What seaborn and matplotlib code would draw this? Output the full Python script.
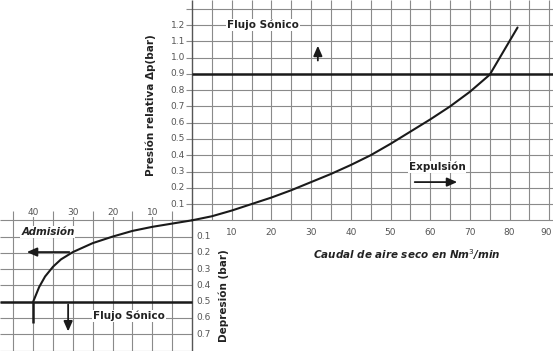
import numpy as np
import pandas as pd
import matplotlib
matplotlib.use("Agg")
import matplotlib.pyplot as plt
import seaborn as sns

# Flow rate (Nm3/min) vs. relative pressure on the discharge side
caudal_expulsion = [0, 5, 10, 15, 20, 25, 30, 35, 40, 45, 50, 55, 60, 65, 70, 75, 78.5, 82]
presion_relativa = [0, 0.025, 0.06, 0.10, 0.14, 0.185, 0.235, 0.285, 0.34, 0.40, 0.47,
                    0.545, 0.62, 0.70, 0.79, 0.895, 1.04, 1.185]

# Flow rate (Nm3/min) vs. depression on the intake side (drawn to the left / downward)
caudal_admision = [0, 5, 10, 15, 20, 25, 30, 33, 35, 37, 38.5, 40]
depresion = [0, 0.02, 0.04, 0.065, 0.10, 0.14, 0.195, 0.24, 0.285, 0.345, 0.41, 0.50]

# Tick labels
ticks_caudal_exp = [10, 20, 30, 40, 50, 60, 70, 80, 90]
ticks_caudal_adm = [40, 30, 20, 10]
ticks_presion = [0.1, 0.2, 0.3, 0.4, 0.5, 0.6, 0.7, 0.8, 0.9, 1.0, 1.1, 1.2]
ticks_depresion = [0.1, 0.2, 0.3, 0.4, 0.5, 0.6, 0.7]

# Sonic flow limits
limite_sonico_exp = 0.9
limite_sonico_adm = 0.5

sns.set_theme(style="white")
plt.rcParams["font.family"] = ["DejaVu Sans"]

XLIM = (-48.36, 90.93)
YLIM = (-0.803, 1.354)

fig = plt.figure(figsize=(5.53, 3.51), dpi=100)
ax = fig.add_axes([0, 0, 1, 1])

grid_c = "#8a8a8a"
grid_w = 0.8
txt_c = "#222222"
tick_c = "#555555"
ink = "#1a1a1a"

# Upper-right grid (discharge)
for y in np.arange(0, 1.31, 0.1):
    ax.hlines(y, -1.5, 91, color=grid_c, lw=grid_w, zorder=1)
for x in range(5, 95, 5):
    ax.vlines(x, 0, YLIM[1], color=grid_c, lw=grid_w, zorder=1)

# Lower-left grid (intake)
for y in np.arange(0, 0.81, 0.1):
    ax.hlines(-y, -48.4, 0, color=grid_c, lw=grid_w, zorder=1)
for x in range(5, 50, 5):
    ax.vlines(-x, YLIM[0], 0.06, color=grid_c, lw=grid_w, zorder=1)

# Central axis
ax.vlines(0, YLIM[0], YLIM[1], color="#555555", lw=1.0, zorder=2)

# Curves
df_exp = pd.DataFrame({"caudal": caudal_expulsion, "presion": presion_relativa})
df_adm = pd.DataFrame({"caudal": [-c for c in caudal_admision],
                       "presion": [-d for d in depresion]})
sns.lineplot(data=df_exp, x="caudal", y="presion", ax=ax, color=ink,
             lw=1.5, sort=False, zorder=4)
sns.lineplot(data=df_adm, x="caudal", y="presion", ax=ax, color=ink,
             lw=1.5, sort=False, zorder=4)
ax.set_xlim(*XLIM)
ax.set_ylim(*YLIM)
ax.axis("off")

# Sonic flow lines
ax.hlines(limite_sonico_exp, 0, 91, color=ink, lw=1.8, zorder=3)
ax.hlines(-limite_sonico_adm, -48.4, 0, color=ink, lw=1.8, zorder=3)
ax.vlines(-caudal_admision[-1], -0.63, -limite_sonico_adm, color=ink, lw=1.8, zorder=3)

# Arrows
arrow_kw = dict(arrowstyle="-|>,head_length=0.5,head_width=0.22", color=ink, lw=1.3)
ax.annotate("", xy=(31.7, 1.09), xytext=(31.7, 0.965), arrowprops=arrow_kw, zorder=5)
ax.annotate("", xy=(-31.2, -0.70), xytext=(-31.2, -0.5), arrowprops=arrow_kw, zorder=5)
ax.annotate("", xy=(67.5, 0.235), xytext=(55.4, 0.235), arrowprops=arrow_kw, zorder=5)
ax.annotate("", xy=(-42.3, -0.195), xytext=(-30.2, -0.195), arrowprops=arrow_kw, zorder=5)

# Tick labels
for v in ticks_caudal_exp:
    xpos = min(v, 89.3)
    ax.text(xpos, -0.073, f"{v}", ha="center", va="center", fontsize=6.5, color=tick_c, zorder=6)
for v in ticks_caudal_adm:
    ax.text(-v, 0.05, f"{v}", ha="center", va="center", fontsize=6.5, color=tick_c, zorder=6,
            bbox=dict(facecolor="white", edgecolor="none", pad=0.5))
for v in ticks_presion:
    ax.text(-1.8, v, f"{v:.1f}", ha="right", va="center", fontsize=6.5, color=tick_c, zorder=6)
for v in ticks_depresion:
    ax.text(1.0, -v, f"{v:.1f}", ha="left", va="center", fontsize=6.5, color=tick_c, zorder=6)

# Labels
box = dict(facecolor="white", edgecolor="none", pad=0.5)
ax.text(17.9, 1.20, "Flujo Sónico", ha="center", va="center", fontsize=7.5,
        fontweight="bold", color=txt_c, zorder=6, bbox=box)
ax.text(-15.9, -0.585, "Flujo Sónico", ha="center", va="center", fontsize=7.5,
        fontweight="bold", color=txt_c, zorder=6, bbox=box)
ax.text(61.7, 0.33, "Expulsión", ha="center", va="center", fontsize=7.5,
        fontweight="bold", color=txt_c, zorder=6, bbox=box)
ax.text(-36.3, -0.073, "Admisión", ha="center", va="center", fontsize=7.5,
        fontweight="bold", style="italic", color=txt_c, zorder=6, bbox=box)
ax.text(54.2, -0.213, "Caudal de aire seco en Nm$^3$/min", ha="center", va="center",
        fontsize=7.5, fontweight="bold", style="italic", color=txt_c, zorder=6)
ax.text(-10.3, 0.71, "Presión relativa Δp(bar)", ha="center", va="center", rotation=90,
        fontsize=7.5, fontweight="bold", color=txt_c, zorder=6)
ax.text(8.1, -0.46, "Depresión (bar)", ha="center", va="center", rotation=90,
        fontsize=7.5, fontweight="bold", color=txt_c, zorder=6)

fig.savefig("out.png", dpi=100)
